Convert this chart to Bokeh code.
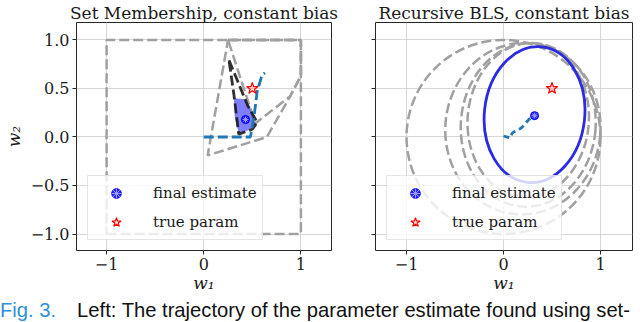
import numpy as np
from bokeh.plotting import figure
from bokeh.models import FixedTicker, Legend, LegendItem, Div
from bokeh.layouts import row, column
from bokeh.embed import file_html
from bokeh.resources import INLINE

# ---------------- data ----------------
x_ticks = [-1, 0, 1]
x_tick_labels = ["−1", "0", "1"]
y_ticks = [-1.0, -0.5, 0.0, 0.5, 1.0]
y_tick_labels = ["−1.0", "−0.5", "0.0", "0.5", "1.0"]

true_w1 = [0.5]
true_w2 = [0.5]

# Set membership panel
sm_est_w1 = [0.43]
sm_est_w2 = [0.18]
sm_prior_w1 = [-1.0, 1.0, 1.0, -1.0]
sm_prior_w2 = [-1.0, -1.0, 1.0, 1.0]
sm_set_a_w1 = [0.25, 1.0, 1.0, 0.89, 0.65, 0.04]
sm_set_a_w2 = [1.0, 1.0, 0.63, 0.42, 0.0, -0.19]
sm_set_b_w1 = [0.25, 1.0, 1.0, 0.89, 0.53]
sm_set_b_w2 = [1.0, 1.0, 0.63, 0.42, 0.14]
sm_set_c_w1 = [0.26, 0.45, 0.55, 0.50, 0.36, 0.31]
sm_set_c_w2 = [0.79, 0.33, 0.15, 0.08, 0.03, 0.44]
sm_final_w1 = [0.31, 0.43, 0.48, 0.53, 0.46, 0.36, 0.32]
sm_final_w2 = [0.40, 0.39, 0.28, 0.13, 0.07, 0.04, 0.20]
sm_traj_w1 = [0.0, 0.48, 0.52, 0.55, 0.60, 0.63]
sm_traj_w2 = [0.0, 0.0, 0.23, 0.47, 0.64, 0.66]

# Recursive BLS panel
bls_est_w1 = [0.32]
bls_est_w2 = [0.22]
bls_traj_w1 = [0.0, 0.07, 0.09, 0.12, 0.18, 0.22, 0.26, 0.31]
bls_traj_w2 = [0.01, -0.01, 0.04, 0.06, 0.09, 0.13, 0.18, 0.21]
bls_ell_cx = [0.0, 0.2, 0.255, 0.255]
bls_ell_cy = [0.0, 0.085, 0.125, 0.175]
bls_ell_w = [2.0, 1.6, 1.39, 1.25]
bls_ell_h = [2.0, 1.77, 1.69, 1.59]
bls_ell_ang = [0.0, -0.08, -0.08, -0.08]
bls_fin_cx = [0.32]
bls_fin_cy = [0.23]
bls_fin_w = [1.035]
bls_fin_h = [1.404]
bls_fin_ang = [-0.105]

SERIF = "DejaVu Serif"
GRAY = "#a0a0a0"
TAB_BLUE = "#1f77b4"


def closed(v):
    return list(v) + [v[0]]


def make_fig(width, b_left, b_right, xr, title, ylabels):
    p = figure(width=width, height=298, x_range=xr, y_range=(-1.17, 1.18),
               output_backend="svg", toolbar_location=None,
               min_border_left=b_left, min_border_right=b_right,
               min_border_top=21, min_border_bottom=48, margin=0)
    p.title.text = title
    p.title.align = "center"
    p.title.text_font = SERIF
    p.title.text_font_size = "17px"
    p.title.text_font_style = "normal"
    p.title.text_color = "#1a1a1a"
    p.title.standoff = 0
    p.title.offset = 0
    p.background_fill_color = "white"
    p.border_fill_color = "white"
    p.outline_line_color = "#262626"
    p.outline_line_width = 1
    xt = FixedTicker(ticks=x_ticks)
    yt = FixedTicker(ticks=y_ticks)
    p.xaxis.ticker = xt
    p.yaxis.ticker = yt
    p.xgrid.ticker = xt
    p.ygrid.ticker = yt
    p.grid.grid_line_color = "#d6d6d6"
    p.grid.grid_line_width = 1
    p.xaxis.major_label_overrides = {float(t): s for t, s in zip(x_ticks, x_tick_labels)}
    if ylabels:
        p.yaxis.major_label_overrides = {float(t): s for t, s in zip(y_ticks, y_tick_labels)}
    else:
        p.yaxis.major_label_overrides = {float(t): "" for t in y_ticks}
    p.axis.axis_line_color = None
    p.axis.major_tick_line_color = "#262626"
    p.axis.major_tick_out = 4
    p.axis.major_tick_in = 0
    p.axis.minor_tick_line_color = None
    p.axis.major_label_text_font = SERIF
    p.axis.major_label_text_font_size = "16px"
    p.axis.major_label_text_color = "#1a1a1a"
    p.axis.major_label_standoff = 3
    p.xaxis.axis_label = "w₁"
    p.xaxis.axis_label_text_font = SERIF
    p.xaxis.axis_label_text_font_style = "italic"
    p.xaxis.axis_label_text_font_size = "17px"
    p.xaxis.axis_label_standoff = 0
    p.xaxis.axis_label_text_color = "#1a1a1a"
    if ylabels:
        p.yaxis.axis_label = "w₂"
        p.yaxis.axis_label_text_font = SERIF
        p.yaxis.axis_label_text_font_style = "italic"
        p.yaxis.axis_label_text_font_size = "17px"
        p.yaxis.axis_label_standoff = 4
        p.yaxis.axis_label_text_color = "#1a1a1a"
    else:
        p.yaxis.major_label_standoff = 0
    return p


def add_markers(p, ex, ey):
    r1 = p.scatter(ex, ey, marker="circle", size=8, fill_color="blue",
                   line_color="blue", fill_alpha=0.85)
    r2 = p.scatter(ex, ey, marker="asterisk", size=6, line_color="#9a9aff", line_width=1)
    r3 = p.scatter(true_w1, true_w2, marker="star", size=12, fill_color="red",
                   fill_alpha=0.15, line_color="red", line_width=1.2)
    leg = Legend(items=[LegendItem(label="final estimate", renderers=[r1, r2]),
                        LegendItem(label="true param", renderers=[r3])],
                 location=(11, 10), padding=5, spacing=5, glyph_width=46,
                 glyph_height=24, label_standoff=14, label_height=24, margin=0,
                 label_text_font=SERIF, label_text_font_size="15px",
                 label_text_color="#1a1a1a",
                 border_line_color="#cccccc", border_line_width=1,
                 background_fill_color="white", background_fill_alpha=0.8)
    p.add_layout(leg)


# ---------------- left panel ----------------
p1 = make_fig(350, 75, 19, (-1.31, 1.315), "Set Membership, constant bias", True)
p1.multi_line([closed(sm_prior_w1), closed(sm_set_a_w1), closed(sm_set_b_w1)],
              [closed(sm_prior_w2), closed(sm_set_a_w2), closed(sm_set_b_w2)],
              line_color=GRAY, line_width=2.5, line_dash="10 4")
p1.patch(sm_final_w1, sm_final_w2, fill_color="blue", fill_alpha=0.5, line_color=None)
p1.line(closed(sm_set_c_w1), closed(sm_set_c_w2), line_color="#1a1a1a",
        line_width=2.8, line_dash="10 4", line_alpha=0.9)
p1.line(sm_traj_w1, sm_traj_w2, line_color=TAB_BLUE, line_width=2.8, line_dash="10 4")
add_markers(p1, sm_est_w1, sm_est_w2)

# ---------------- right panel ----------------
p2 = make_fig(290, 25, 8, (-1.32, 1.33), "Recursive BLS, constant bias", False)
p2.ellipse(x=bls_ell_cx, y=bls_ell_cy, width=bls_ell_w, height=bls_ell_h,
           angle=bls_ell_ang, fill_color=None, line_color=GRAY, line_width=2.5,
           line_dash="10 4")
p2.ellipse(x=bls_fin_cx, y=bls_fin_cy, width=bls_fin_w, height=bls_fin_h,
           angle=bls_fin_ang, fill_color=None, line_color="#2b2be0", line_width=2.8)
p2.line(bls_traj_w1, bls_traj_w2, line_color=TAB_BLUE, line_width=2.8, line_dash="6 4")
add_markers(p2, bls_est_w1, bls_est_w2)

caption = Div(
    text='<span style="color:#2e8fd9">Fig. 3.</span>'
         '<span style="margin-left:21px">Left: The trajectory of the parameter '
         'estimate found using set-</span>',
    width=640, height=24, margin=0,
    styles={"font-family": "'Liberation Sans', Arial, sans-serif", "font-size": "20.2px",
            "line-height": "24px", "white-space": "nowrap", "overflow": "hidden",
            "color": "#111111"})

layout = column(row(p1, p2, margin=0, spacing=0), caption, margin=0, spacing=0)

open("out.html", "w").write(file_html(layout, INLINE))
